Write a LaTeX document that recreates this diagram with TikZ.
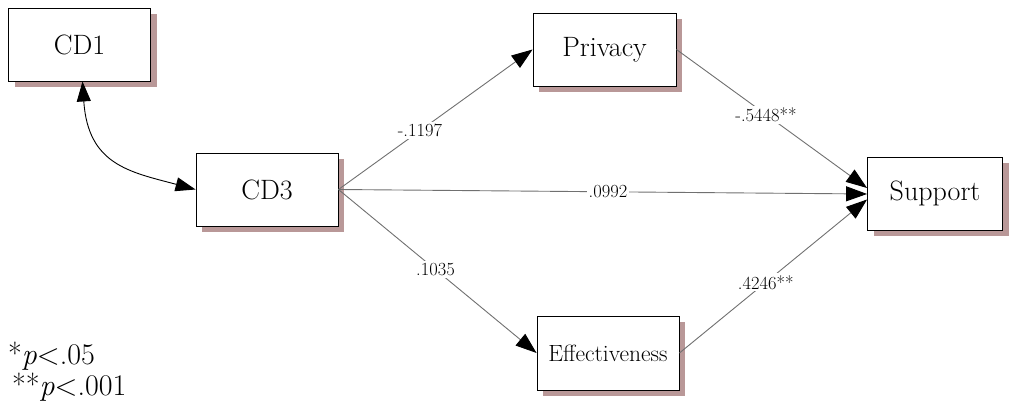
\documentclass[tikz,border=0pt]{standalone}
\usepackage{fontspec}
\usetikzlibrary{arrows.meta,shadows}
\definecolor{shadowbrown}{RGB}{185,152,152}
\definecolor{linegrey}{RGB}{112,112,112}
\tikzset{
  var/.style={draw=black, line width=0.9pt, fill=white, inner sep=0pt,
    minimum width=142pt, minimum height=73pt, font=\fontsize{28}{30}\selectfont,
    drop shadow={shadow xshift=6pt, shadow yshift=-6pt, fill=shadowbrown, opacity=1}},
  sempath/.style={draw=linegrey, line width=0.9pt,
    -{Triangle[length=21pt,width=15pt,color=black]}},
  coef/.style={fill=white, inner sep=2pt, text=black, font=\fontsize{18.5}{20}\selectfont},
  legend/.style={anchor=west, inner sep=0pt, font=\fontsize{30}{32}\selectfont},
}
\begin{document}
\begin{tikzpicture}[x=1pt,y=-1pt]
\useasboundingbox (0,0) rectangle (1009,419);

\node[var] (cd1) at (79.5,44.5) {CD1};
\node[var] (cd3) at (267,189.5) {CD3};
\node[var, minimum width=143pt] (priv) at (604.5,49.5) {Privacy};
\node[var, minimum width=135pt] (supp) at (935,193.5) {Support};
\node[var, minimum height=74pt, font=\fontsize{23.5}{26}\selectfont] (eff) at (608,353) {Effectiveness};

% correlation between CD1 and CD3
\draw[draw=black, line width=0.9pt,
  {Triangle[length=20pt,width=14pt]}-{Triangle[length=20pt,width=14pt]}]
  ([xshift=3pt]cd1.south) .. controls (88,165) and (130,172) .. (cd3.west);

% structural paths
\draw[sempath] (cd3.east) -- node[coef, pos=0.42] {-.1197} (priv.west);
\draw[sempath] (cd3.east) -- node[coef, pos=0.51] {.0992} ([yshift=-0.5pt]supp.west);
\draw[sempath] (cd3.east) -- node[coef, pos=0.49] {.1035} (eff.west);
\draw[sempath] (priv.east) -- node[coef, pos=0.47] {-.5448**} ([yshift=5.5pt]supp.west);
\draw[sempath] (eff.east) -- node[coef, pos=0.46] {.4246**} ([yshift=-6pt]supp.west);

% significance legend
\node[legend] (sig1) at (8,356) {*\textit{p}<.05};
\node[legend] (sig2) at (12,387) {**\textit{p}<.001};
\end{tikzpicture}
\end{document}
